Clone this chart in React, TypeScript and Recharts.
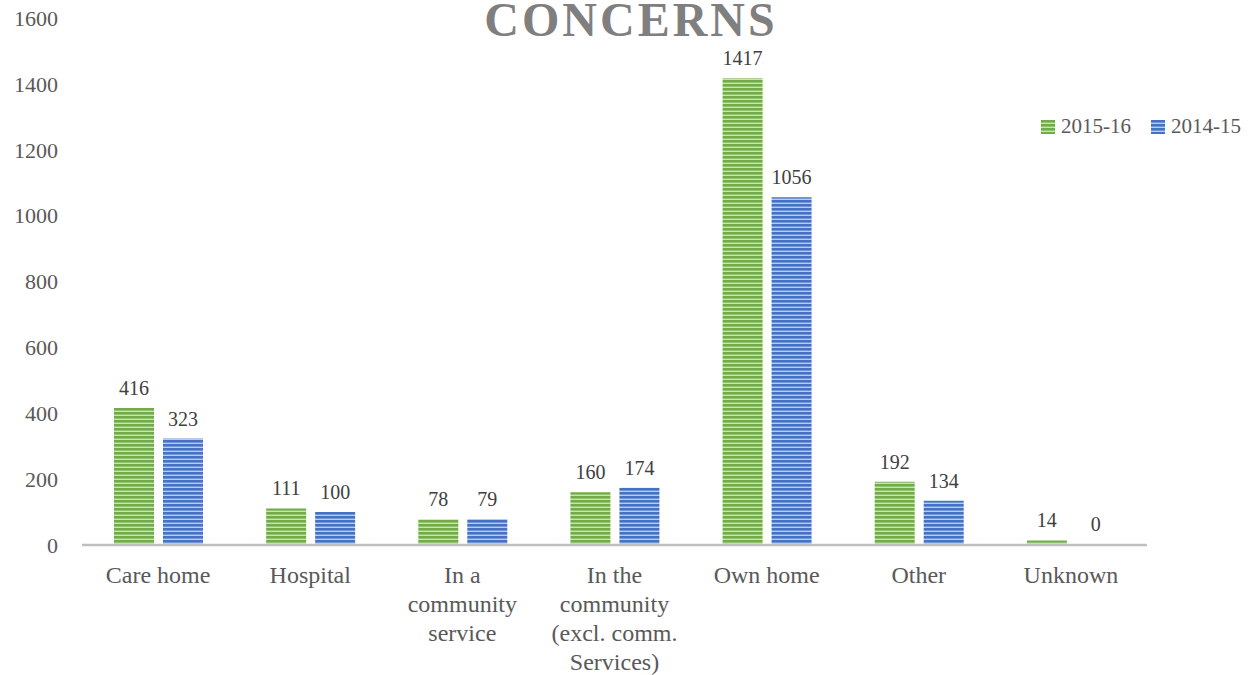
import { Bar, BarChart, LabelList, Legend, XAxis, YAxis } from 'recharts'

const categories = [
  'Care home',
  'Hospital',
  'In a\ncommunity\nservice',
  'In the\ncommunity\n(excl. comm.\nServices)',
  'Own home',
  'Other',
  'Unknown',
]
const values201516 = [416, 111, 78, 160, 1417, 192, 14]
const values201415 = [323, 100, 79, 174, 1056, 134, 0]
const yTicks = [0, 200, 400, 600, 800, 1000, 1200, 1400, 1600]

const data = categories.map((name, i) => ({
  name,
  a: values201516[i],
  b: values201415[i],
}))

const FONT = '"Liberation Serif", "DejaVu Serif", serif'

function CategoryTick(props: any) {
  const { x, y, payload } = props
  const lines = String(payload.value).split('\n')
  return (
    <g>
      {lines.map((line: string, i: number) => (
        <text
          key={i}
          x={x}
          y={y + 30 + i * 29}
          textAnchor="middle"
          fill="#595959"
          fontSize={24}
          fontFamily={FONT}
        >
          {line}
        </text>
      ))}
    </g>
  )
}

function LegendContent(props: any) {
  const items = props.payload || []
  return (
    <div style={{ display: 'flex', alignItems: 'center', fontFamily: FONT }}>
      {items.map((item: any, i: number) => (
        <div
          key={i}
          style={{ display: 'flex', alignItems: 'center', marginRight: 20 }}
        >
          <svg width={14} height={14} style={{ marginRight: 6 }}>
            <rect
              width={14}
              height={14}
              fill={item.value === '2015-16' ? 'url(#stripeGreen)' : 'url(#stripeBlue)'}
            />
          </svg>
          <span style={{ color: '#595959', fontSize: 21 }}>{item.value}</span>
        </div>
      ))}
    </div>
  )
}

export default function App() {
  return (
    <div style={{ position: 'absolute', left: 0, top: 0, width: 1259, height: 675 }}>
      <div
        style={{
          position: 'absolute',
          left: 0,
          width: 1262,
          top: 1,
          lineHeight: 0.8,
          textAlign: 'center',
          fontFamily: FONT,
          fontWeight: 'bold',
          fontSize: 48,
          letterSpacing: 3,
          color: '#7f7f7f',
          zIndex: 2,
        }}
      >
        CONCERNS
      </div>
      <BarChart
        width={1259}
        height={675}
        data={data}
        margin={{ top: 18, right: 112, bottom: 0, left: 0 }}
        barSize={40}
        barGap={9}
      >
        <defs>
          <pattern id="stripeGreen" width={8} height={4} patternUnits="userSpaceOnUse">
            <rect width={8} height={4} fill="#c9e2b8" />
            <rect width={8} height={2.6} fill="#70ad47" />
          </pattern>
          <pattern id="stripeBlue" width={8} height={4} patternUnits="userSpaceOnUse">
            <rect width={8} height={4} fill="#bccbec" />
            <rect width={8} height={2.6} fill="#4472c4" />
          </pattern>
        </defs>
        <XAxis
          dataKey="name"
          height={105}
          interval={0}
          tickLine={false}
          axisLine={{ stroke: '#bfbfbf', strokeWidth: 2.5 }}
          tick={<CategoryTick />}
        />
        <YAxis
          width={82}
          domain={[0, 1600]}
          ticks={yTicks}
          axisLine={false}
          tickLine={false}
          tickSize={0}
          tickMargin={24}
          tick={{ fill: '#595959', fontSize: 22, fontFamily: FONT }}
        />
        <Legend
          content={<LegendContent />}
          itemSorter="dataKey"
          wrapperStyle={{ position: 'absolute', left: 1041, top: 114, width: 230 }}
        />
        <Bar dataKey="a" name="2015-16" fill="url(#stripeGreen)" isAnimationActive={false}>
          <LabelList
            dataKey="a"
            position="top"
            offset={13}
            fill="#404040"
            fontSize={20}
            fontFamily={FONT}
          />
        </Bar>
        <Bar
          dataKey="b"
          name="2014-15"
          fill="url(#stripeBlue)"
          minPointSize={1}
          isAnimationActive={false}
        >
          <LabelList
            dataKey="b"
            position="top"
            offset={13}
            fill="#404040"
            fontSize={20}
            fontFamily={FONT}
          />
        </Bar>
      </BarChart>
    </div>
  )
}
